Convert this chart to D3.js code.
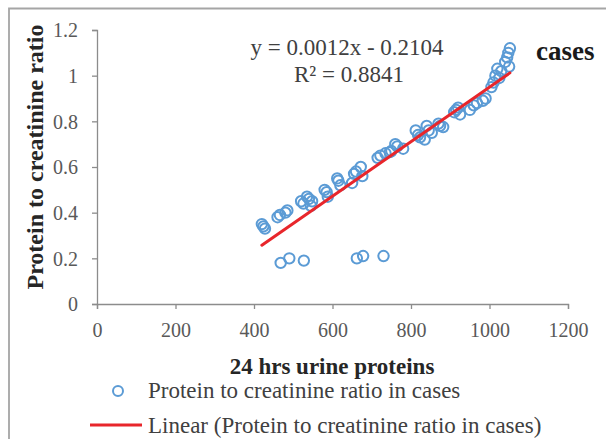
<!DOCTYPE html>
<html><head><meta charset="utf-8">
<script src="https://cdn.jsdelivr.net/npm/d3@7"></script>
<style>body{margin:0;background:#fff}svg{display:block}</style>
</head><body>
<script>
const xValues = [420,424,428,460,466,480,485,520,526,535,540,545,548,580,585,588,612,615,620,650,655,660,672,676,715,722,735,746,750,760,765,780,812,818,823,835,840,845,853,870,874,882,910,915,920,925,950,960,968,983,990,1005,1010,1015,1020,1025,1030,1040,1045,1048,1052,1050,468,490,527,662,678,730];
const yValues = [0.35,0.34,0.33,0.38,0.39,0.40,0.41,0.45,0.44,0.47,0.46,0.43,0.45,0.50,0.49,0.47,0.55,0.54,0.52,0.53,0.57,0.58,0.60,0.56,0.64,0.65,0.66,0.665,0.67,0.70,0.69,0.68,0.76,0.74,0.73,0.72,0.78,0.76,0.75,0.79,0.78,0.775,0.84,0.85,0.86,0.83,0.85,0.87,0.88,0.89,0.90,0.95,0.97,1.00,1.03,0.99,1.02,1.06,1.08,1.10,1.12,1.04,0.18,0.20,0.19,0.20,0.21,0.21];
const xTicks = [0,200,400,600,800,1000,1200];
const yTicks = [0,0.2,0.4,0.6,0.8,1,1.2];
const equationText = "y = 0.0012x - 0.2104";
const r2Text = "R² = 0.8841";
const xTitle = "24 hrs urine proteins";
const yTitle = "Protein to creatinine ratio";
const legendLabels = ["Protein to creatinine ratio in cases","Linear (Protein to creatinine ratio in cases)"];
const cornerLabel = "cases";

const W=606,H=439;
const serif = "'Liberation Serif','Times New Roman',serif";
const svg = d3.select("body").append("svg").attr("width",W).attr("height",H);
svg.append("rect").attr("x",0).attr("y",0).attr("width",W).attr("height",H).attr("fill","#fff");
// frame
svg.append("path").attr("d",`M9,${H+5} V8.5 H${W+5}`).attr("fill","none").attr("stroke","#a5a5a5").attr("stroke-width",1.8);

const x = d3.scaleLinear().domain([0,1200]).range([97,568]);
const y = d3.scaleLinear().domain([0,1.2]).range([304,30]);
const axisColor = "#8c8c8c";

const gx = svg.append("g").attr("transform","translate(0,304)")
  .call(d3.axisBottom(x).tickValues(xTicks).tickSize(5).tickPadding(14).tickFormat(d3.format("d")));
const gy = svg.append("g").attr("transform","translate(97,0)")
  .call(d3.axisLeft(y).tickValues(yTicks).tickSize(5).tickPadding(14).tickFormat(d=>String(+d.toFixed(1))));
[gx,gy].forEach(g=>{
  g.select(".domain").attr("stroke",axisColor).attr("stroke-width",1.3);
  g.selectAll(".tick line").attr("stroke",axisColor).attr("stroke-width",1.3);
  g.selectAll(".tick text").attr("fill","#595959").attr("font-family",serif).attr("font-size",20);
});
gy.selectAll(".tick text").attr("dy","0.34em");

// data
const pts = xValues.map((v,i)=>({x:v,y:yValues[i]}));
svg.append("g").selectAll("circle").data(pts).join("circle")
  .attr("cx",d=>x(d.x)).attr("cy",d=>y(d.y)).attr("r",5.2)
  .attr("fill","none").attr("stroke","#5b9bd5").attr("stroke-width",2);

// linear regression from data
const mx=d3.mean(pts,d=>d.x), my=d3.mean(pts,d=>d.y);
const slope=d3.sum(pts,d=>(d.x-mx)*(d.y-my))/d3.sum(pts,d=>(d.x-mx)*(d.x-mx));
const icpt=my-slope*mx;
const [x0,x1]=d3.extent(xValues);
svg.append("line").attr("x1",x(x0)).attr("y1",y(slope*x0+icpt)).attr("x2",x(x1)).attr("y2",y(slope*x1+icpt))
  .attr("stroke","#e8262b").attr("stroke-width",3).attr("stroke-linecap","round");

// equation
svg.append("text").attr("x",347).attr("y",55).attr("text-anchor","middle").attr("font-family",serif).attr("font-size",23).attr("fill","#404040").text(equationText);
svg.append("text").attr("x",349).attr("y",82).attr("text-anchor","middle").attr("font-family",serif).attr("font-size",23).attr("fill","#404040").text(r2Text);
svg.append("text").attr("x",536).attr("y",60).attr("font-family",serif).attr("font-weight","bold").attr("font-size",27).attr("fill","#1a1a1a").text(cornerLabel);

// axis titles
svg.append("text").attr("x",332).attr("y",374).attr("text-anchor","middle").attr("font-family",serif).attr("font-weight","bold").attr("font-size",23).attr("fill","#262626").text(xTitle);
svg.append("text").attr("transform","translate(43,157) rotate(-90)").attr("text-anchor","middle").attr("font-family",serif).attr("font-weight","bold").attr("font-size",24).attr("fill","#262626").text(yTitle);

// legend
svg.append("circle").attr("cx",118).attr("cy",391).attr("r",5).attr("fill","none").attr("stroke","#5b9bd5").attr("stroke-width",2);
svg.append("text").attr("x",148).attr("y",398).attr("font-family",serif).attr("font-size",23).attr("fill","#404040").text(legendLabels[0]);
svg.append("line").attr("x1",90).attr("x2",142).attr("y1",425).attr("y2",425).attr("stroke","#e8262b").attr("stroke-width",3);
svg.append("text").attr("x",148).attr("y",433).attr("font-family",serif).attr("font-size",23).attr("fill","#404040").text(legendLabels[1]);
</script>
</body></html>
